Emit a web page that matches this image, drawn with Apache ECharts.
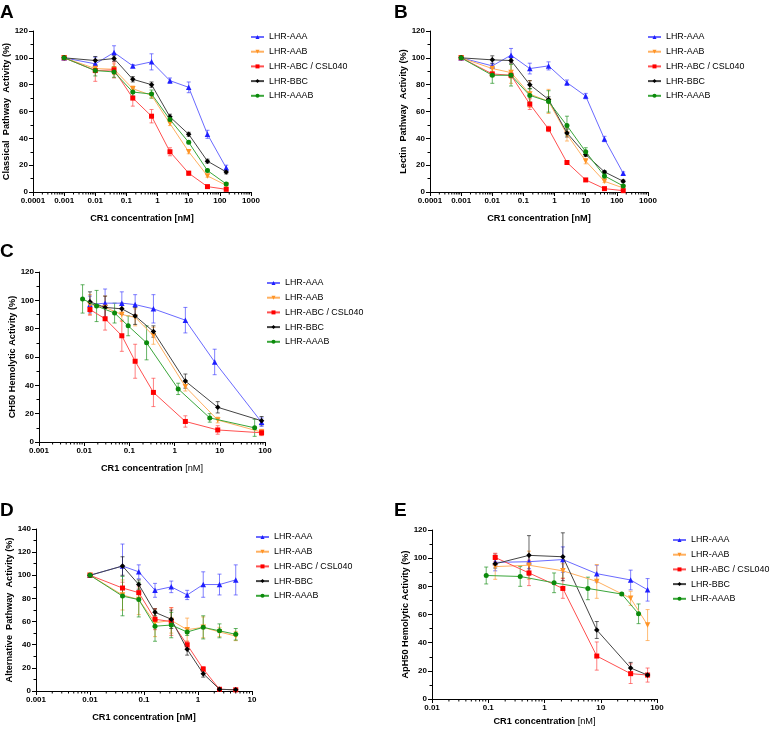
<!DOCTYPE html>
<html><head><meta charset="utf-8">
<script src="https://cdn.jsdelivr.net/npm/echarts@6/dist/echarts.min.js"></script>
<style>html,body{margin:0;padding:0;background:#fff}#c{width:775px;height:731px}</style>
</head><body><div id="c"></div>
<script>
// ---------- names ----------
const seriesNames = ['LHR-AAA', 'LHR-AAB', 'LHR-ABC / CSL040', 'LHR-BBC', 'LHR-AAAB'];

// ---------- tick labels ----------
const ticksA = ['0.0001', '0.001', '0.01', '0.1', '1', '10', '100', '1000'];
const ticksB = ['0.0001', '0.001', '0.01', '0.1', '1', '10', '100', '1000'];
const ticksC = ['0.001', '0.01', '0.1', '1', '10', '100'];
const ticksD = ['0.001', '0.01', '0.1', '1', '10'];
const ticksE = ['0.01', '0.1', '1', '10', '100'];

// ---------- Panel A: Classical pathway ----------
const dosesA = [0.001, 0.01, 0.04, 0.16, 0.64, 2.5, 10, 40, 160];
const aAAA  = [100, 95.5, 104, 94, 97, 83, 78, 43, 18];
const aAAB  = [100, 92, 91.5, 77, 72, 51, 30, 12, 5];
const aABC  = [100, 90.5, 91, 70, 56.5, 30, 14, 4, 2];
const aBBC  = [100, 98, 99.5, 84, 80, 56, 43, 23, 15];
const aAAAB = [100, 90.5, 89.5, 74.5, 73, 54, 37, 16, 6];
const aAAAerr  = [0, 5, 5, 1, 6, 2, 4, 3, 2];
const aAABerr  = [0, 2, 4, 2, 2, 1.5, 1.5, 1, 1];
const aABCerr  = [0, 8, 6, 6, 5, 3, 1.5, 1, 1];
const aBBCerr  = [0, 3, 2, 2, 2, 2, 1.5, 1.5, 1.5];
const aAAABerr = [0, 4, 4, 3, 3, 2, 1, 1, 1];

// ---------- Panel B: Lectin pathway ----------
const dosesB = [0.001, 0.01, 0.04, 0.16, 0.64, 2.5, 10, 40, 160];
const bAAA  = [100, 94, 102, 92, 94, 81.5, 71.5, 39.5, 14];
const bAAB  = [100, 92, 89, 73, 67.5, 43, 23, 8, 3];
const bABC  = [100, 88, 87, 65.5, 47, 22, 9, 2.5, 1];
const bBBC  = [100, 98.5, 98, 80, 69, 44, 28, 15, 8];
const bAAAB = [100, 87, 87, 72, 67.5, 49.5, 30, 12, 4.5];
const bAAAerr  = [0, 2, 5, 4, 3, 2, 2, 2, 1];
const bAABerr  = [0, 2, 8, 10, 9, 5, 2, 1, 1];
const bABCerr  = [0, 1, 2, 4, 2, 1, 1, 0.5, 0.5];
const bBBCerr  = [0, 3, 2, 3, 2, 3, 1.5, 1, 1];
const bAAABerr = [0, 6, 8, 5, 8, 7, 3, 2, 1];

// ---------- Panel C: CH50 ----------
const dosesC_AAA  = [0.0134, 0.029, 0.068, 0.134, 0.34, 1.73, 7.7, 84];
const dosesC      = [0.0134, 0.029, 0.068, 0.134, 0.34, 1.73, 9.0, 84];
const dosesC_AAAB = [0.0092, 0.0188, 0.047, 0.094, 0.24, 1.2, 6.0, 59];
const cAAA  = [97, 98, 98, 97, 94, 86, 56.5, 14];
const cAAB  = [97, 95, 90, 88, 75, 39, 15.5, 7];
const cABC  = [93.5, 87, 75, 57, 35, 14.5, 8.5, 6.5];
const cBBC  = [99, 95, 94, 89, 78, 43, 24.5, 15];
const cAAAB = [101, 96, 91, 82, 70, 37.5, 17, 10];
const cAAAerr  = [6, 10, 8, 7, 10, 9, 9, 3];
const cAABerr  = [7, 8, 5, 6, 6, 3, 2, 2];
const cABCerr  = [4, 8, 11, 12, 10, 4, 3, 2];
const cBBCerr  = [7, 8, 4, 6, 4, 5, 4, 3];
const cAAABerr = [10, 11, 7, 7, 12, 4, 3, 6];

// ---------- Panel D: Alternative pathway ----------
const dosesD = [0.01, 0.04, 0.08, 0.16, 0.32, 0.63, 1.25, 2.5, 5];
const dAAA  = [100, 108, 103, 87, 90, 83, 92, 92, 96];
const dAAB  = [100, 83, 79, 59, 61, 53, 55, 51, 47.5];
const dABC  = [100, 89, 85, 62, 60, 40, 19, 1.5, 1];
const dBBC  = [100, 108, 92, 68, 62, 36, 15, 1.5, 1];
const dAAAB = [100, 82, 79, 56, 57, 51, 55, 52, 49];
const dAAAerr  = [0, 19, 6, 6, 5, 4, 11, 9, 13];
const dAABerr  = [0, 13, 13, 12, 11, 10, 9, 4, 4];
const dABCerr  = [0, 5, 5, 9, 12, 3, 2, 1, 1];
const dBBCerr  = [0, 8, 4, 3, 8, 5, 3, 0.5, 0.5];
const dAAABerr = [0, 17, 15, 13, 11, 3, 10, 6, 5];

// ---------- Panel E: ApH50 ----------
const dosesE      = [0.133, 0.53, 2.12, 8.5, 34, 68];
const dosesE_AAAB = [0.092, 0.37, 1.48, 5.9, 23.6, 47];
const eAAA  = [97, 97.5, 99, 89, 84.5, 77.5];
const eAAB  = [94, 95, 91, 83.5, 71.5, 52.5];
const eABC  = [100.5, 89.5, 78.5, 30.5, 18, 17];
const eBBC  = [96, 102, 101, 49, 22, 17];
const eAAAB = [87.7, 87, 82.5, 78.5, 74.5, 60.5];
const eAAAerr  = [6, 5, 9, 6, 7, 8];
const eAABerr  = [9, 10, 5, 12, 5, 11];
const eABCerr  = [3, 9, 7, 10, 7, 5];
const eBBCerr  = [3, 14, 17, 6, 4, 1];
const eAAABerr = [6, 7, 7, 8, 1, 7];

// ---------- styling ----------
const FONT = 'Liberation Sans';
const styles = [
  {color: '#1f1fff', line: '#6a6aff', err: 'rgba(60,60,255,0.65)',  symbol: 'triangle', rotate: 0,   size: 5.5},
  {color: '#ff9426', line: '#ffb060', err: 'rgba(255,160,60,0.7)',  symbol: 'triangle', rotate: 180, size: 5.5},
  {color: '#ff0000', line: '#ff5050', err: 'rgba(255,60,60,0.65)',  symbol: 'rect',     rotate: 0,   size: 5},
  {color: '#000000', line: '#444444', err: 'rgba(0,0,0,0.6)',       symbol: 'diamond',  rotate: 0,   size: 5.5},
  {color: '#0b8a0b', line: '#3aa63a', err: 'rgba(20,140,20,0.65)',  symbol: 'circle',   rotate: 0,   size: 5}
];

const xTitlePlain = 'CR1 concentration [nM]';
const xTitleRich = '{b|CR1 concentration} {n|[nM]}';

const panels = [
  {letter: 'A', lx: 0, ly: 3, grid: {left: 33, top: 31, width: 218, height: 161},
   xmin: 0.0001, xmax: 1000, ticks: ticksA, ymax: 120,
   yTitle: 'Classical  Pathway  Activity (%)', yGap: 15, xTitle: xTitlePlain, xGap: 22,
   legend: {left: 250, top: 32},
   xs: [dosesA, dosesA, dosesA, dosesA, dosesA], ys: [aAAA, aAAB, aABC, aBBC, aAAAB],
   es: [aAAAerr, aAABerr, aABCerr, aBBCerr, aAAABerr]},
  {letter: 'B', lx: 394, ly: 3, grid: {left: 430, top: 31, width: 218, height: 161},
   xmin: 0.0001, xmax: 1000, ticks: ticksB, ymax: 120,
   yTitle: 'Lectin  Pathway  Activity (%)', yGap: 19, xTitle: xTitlePlain, xGap: 22,
   legend: {left: 647, top: 32},
   xs: [dosesB, dosesB, dosesB, dosesB, dosesB], ys: [bAAA, bAAB, bABC, bBBC, bAAAB],
   es: [bAAAerr, bAABerr, bABCerr, bBBCerr, bAAABerr]},
  {letter: 'C', lx: 0, ly: 242, grid: {left: 39, top: 272, width: 226, height: 170},
   xmin: 0.001, xmax: 100, ticks: ticksC, ymax: 120,
   yTitle: 'CH50 Hemolytic Activity (%)', yGap: 17, xTitle: xTitleRich, xGap: 22,
   legend: {left: 266, top: 278},
   xs: [dosesC_AAA, dosesC, dosesC, dosesC, dosesC_AAAB], ys: [cAAA, cAAB, cABC, cBBC, cAAAB],
   es: [cAAAerr, cAABerr, cABCerr, cBBCerr, cAAABerr]},
  {letter: 'D', lx: 0, ly: 501, grid: {left: 36, top: 529, width: 216, height: 162},
   xmin: 0.001, xmax: 10, ticks: ticksD, ymax: 140,
   yTitle: 'Alternative  Pathway  Activity (%)', yGap: 18, xTitle: xTitlePlain, xGap: 22,
   legend: {left: 255, top: 532},
   xs: [dosesD, dosesD, dosesD, dosesD, dosesD], ys: [dAAA, dAAB, dABC, dBBC, dAAAB],
   es: [dAAAerr, dAABerr, dABCerr, dBBCerr, dAAABerr]},
  {letter: 'E', lx: 394, ly: 501, grid: {left: 432, top: 530, width: 225, height: 169},
   xmin: 0.01, xmax: 100, ticks: ticksE, ymax: 120,
   yTitle: 'ApH50 Hemolytic Activity (%)', yGap: 22, xTitle: xTitleRich, xGap: 18,
   legend: {left: 672, top: 535},
   xs: [dosesE, dosesE, dosesE, dosesE, dosesE_AAAB], ys: [eAAA, eAAB, eABC, eBBC, eAAAB],
   es: [eAAAerr, eAABerr, eABCerr, eBBCerr, eAAABerr]}
];

function errRender(params, api) {
  const x = api.value(0), lo = api.value(1), hi = api.value(2);
  const p1 = api.coord([x, lo]), p2 = api.coord([x, hi]);
  const w = 2;
  const st = {stroke: api.visual('color'), lineWidth: 1};
  return {type: 'group', children: [
    {type: 'line', shape: {x1: p1[0], y1: p1[1], x2: p2[0], y2: p2[1]}, style: st},
    {type: 'line', shape: {x1: p1[0] - w, y1: p1[1], x2: p1[0] + w, y2: p1[1]}, style: st},
    {type: 'line', shape: {x1: p2[0] - w, y1: p2[1], x2: p2[0] + w, y2: p2[1]}, style: st}
  ]};
}

function minorTickRender(params, api) {
  const p = api.coord([api.value(0), 0]);
  return {type: 'line', shape: {x1: p[0], y1: p[1], x2: p[0], y2: p[1] + 2.5},
          style: {stroke: '#000', lineWidth: 1}};
}

function logMinorValues(min, max) {
  const out = [];
  for (let d = min; d < max * 0.999; d *= 10) {
    for (let k = 2; k <= 9; k++) out.push([+(d * k).toPrecision(3), 0]);
  }
  return out;
}

const titles = [], legends = [], grids = [], xAxes = [], yAxes = [], series = [];
const labelStyle = {fontFamily: FONT, fontSize: 8, fontWeight: 'bold', color: '#000'};
const nameStyle = {fontFamily: FONT, fontSize: 9.2, fontWeight: 'bold', color: '#000',
  rich: {b: {fontFamily: FONT, fontSize: 9.2, fontWeight: 'bold', color: '#000'},
         n: {fontFamily: FONT, fontSize: 9.2, fontWeight: 'normal', color: '#000'}}};

panels.forEach((p, i) => {
  titles.push({text: p.letter, left: p.lx, top: p.ly, padding: 0,
    textStyle: {fontFamily: FONT, fontSize: 19, fontWeight: 'bold', color: '#000'}});
  legends.push({orient: 'vertical', left: p.legend.left, top: p.legend.top, padding: 0,
    itemWidth: 13, itemHeight: 5, itemGap: 4.7, selectedMode: false, data: seriesNames,
    textStyle: {fontFamily: FONT, fontSize: 8.9, color: '#000', lineHeight: 10}});
  grids.push(Object.assign({containLabel: false}, p.grid));
  const lmin = Math.log10(p.xmin);
  xAxes.push({type: 'log', logBase: 10, gridIndex: i, min: p.xmin, max: p.xmax,
    axisLine: {show: true, onZero: false, lineStyle: {color: '#000', width: 1}},
    axisTick: {show: true, inside: false, length: 4, lineStyle: {color: '#000', width: 1}},
    axisLabel: Object.assign({margin: 5, showMinLabel: true, showMaxLabel: true,
      formatter: (v) => { const k = Math.round(Math.log10(v) - lmin); return p.ticks[k] !== undefined ? p.ticks[k] : ''; }}, labelStyle),
    splitLine: {show: false}, minorTick: {show: false},
    name: p.xTitle, nameLocation: 'middle', nameGap: p.xGap, nameTextStyle: nameStyle});
  yAxes.push({type: 'value', gridIndex: i, min: 0, max: p.ymax, interval: 20,
    axisLine: {show: true, onZero: false, lineStyle: {color: '#000', width: 1}},
    axisTick: {show: true, inside: false, length: 4, lineStyle: {color: '#000', width: 1}},
    minorTick: {show: true, splitNumber: 2, length: 2.5, lineStyle: {color: '#000', width: 1}},
    axisLabel: Object.assign({margin: 5}, labelStyle),
    splitLine: {show: false}, minorSplitLine: {show: false},
    name: p.yTitle, nameLocation: 'middle', nameGap: p.yGap, nameTextStyle: nameStyle});
  // minor log ticks on x axis
  series.push({type: 'custom', xAxisIndex: i, yAxisIndex: i, silent: true, clip: false,
    data: logMinorValues(p.xmin, p.xmax), renderItem: minorTickRender, encode: {x: 0, y: 1}, z: 1});
  seriesNames.forEach((name, s) => {
    const st = styles[s];
    const xs = p.xs[s], ys = p.ys[s], es = p.es[s];
    const errData = [];
    xs.forEach((x, j) => { if (es[j] > 0) errData.push([x, ys[j] - es[j], ys[j] + es[j]]); });
    series.push({type: 'custom', xAxisIndex: i, yAxisIndex: i, silent: true, clip: false,
      data: errData, renderItem: errRender, encode: {x: 0, y: [1, 2]},
      itemStyle: {color: st.err}, z: 2});
    series.push({type: 'line', name: name, xAxisIndex: i, yAxisIndex: i,
      data: xs.map((x, j) => [x, ys[j]]),
      symbol: st.symbol, symbolSize: st.size, symbolRotate: st.rotate, showAllSymbol: true,
      itemStyle: {color: st.color}, lineStyle: {color: st.line, width: 1},
      emphasis: {disabled: true}, clip: false, z: 3 + s * 0.01});
  });
});

const chart = echarts.init(document.getElementById('c'), null, {renderer: 'canvas'});
chart.setOption({animation: false, backgroundColor: '#fff', title: titles, legend: legends,
  grid: grids, xAxis: xAxes, yAxis: yAxes, series: series});
</script></body></html>
